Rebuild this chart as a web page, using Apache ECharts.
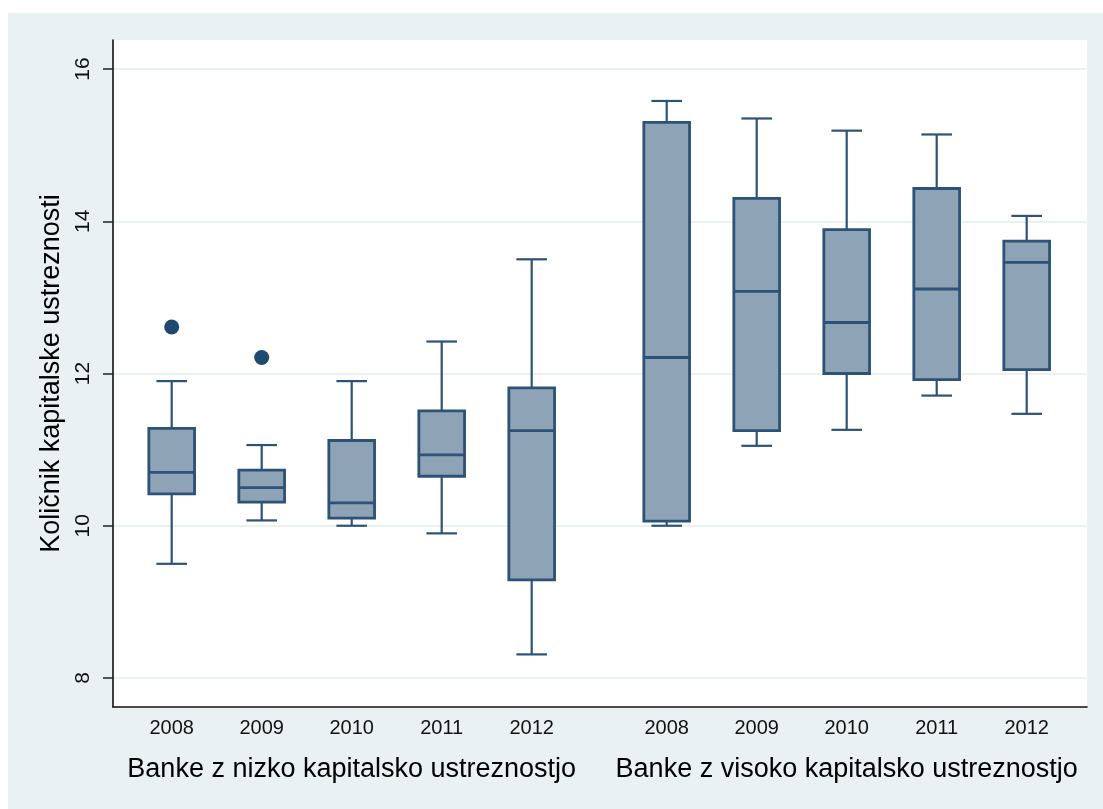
<!DOCTYPE html>
<html>
<head>
<meta charset="utf-8">
<script src="https://cdn.jsdelivr.net/npm/echarts@6/dist/echarts.min.js"></script>
<style>
body {
  margin: 0;
  background: #fff;
}
#box_chart {
  position: absolute;
  left: 8px;
  top: 13px;
  width: 1095px;
  height: 796px;
}
</style>
</head>
<body>
<div id="box_chart"></div>
<script>
const years = ["2008", "2009", "2010", "2011", "2012"];

// banke z nizko kapitalsko ustreznostjo
const lowMin = [9.5, 10.07, 10.0, 9.9, 8.31];
const lowQ1 = [10.42, 10.31, 10.1, 10.65, 9.29];
const lowMedian = [10.7, 10.5, 10.3, 10.93, 11.25];
const lowQ3 = [11.28, 10.73, 11.12, 11.51, 11.81];
const lowMax = [11.9, 11.06, 11.9, 12.42, 13.5];
const lowOutlierYear = [0, 1];
const lowOutlierValue = [12.61, 12.21];

// banke z visoko kapitalsko ustreznostjo
const highMin = [10.0, 11.05, 11.26, 11.71, 11.47];
const highQ1 = [10.06, 11.25, 12.0, 11.92, 12.05];
const highMedian = [12.21, 13.08, 12.67, 13.11, 13.46];
const highQ3 = [15.3, 14.3, 13.89, 14.43, 13.74];
const highMax = [15.58, 15.35, 15.19, 15.14, 14.07];

const yTicks = [8, 10, 12, 14, 16];

const fontFamily = "Liberation Sans, Arial, Helvetica, sans-serif";
const lineColor = "#2c5277";
const fillColor = "#8fa3b6";

function boxRows(mins, q1s, meds, q3s, maxs) {
  return years.map((y, i) => [i, mins[i], q1s[i], meds[i], q3s[i], maxs[i]]);
}

function renderBox(params, api) {
  const i = api.value(0);
  const band = api.size([1, 0])[0];
  const half = band * 0.254;
  const cap = band * 0.17;
  const pMin = api.coord([i, api.value(1)]);
  const pQ1 = api.coord([i, api.value(2)]);
  const pMed = api.coord([i, api.value(3)]);
  const pQ3 = api.coord([i, api.value(4)]);
  const pMax = api.coord([i, api.value(5)]);
  const x = pMed[0];
  const line = { stroke: lineColor, lineWidth: 2.2 };
  return {
    type: "group",
    children: [
      { type: "line", shape: { x1: x, y1: pMax[1], x2: x, y2: pQ3[1] }, style: line },
      { type: "line", shape: { x1: x, y1: pQ1[1], x2: x, y2: pMin[1] }, style: line },
      { type: "line", shape: { x1: x - cap, y1: pMax[1], x2: x + cap, y2: pMax[1] }, style: line },
      { type: "line", shape: { x1: x - cap, y1: pMin[1], x2: x + cap, y2: pMin[1] }, style: line },
      {
        type: "rect",
        shape: { x: x - half, y: pQ3[1], width: half * 2, height: pQ1[1] - pQ3[1] },
        style: { fill: fillColor, stroke: lineColor, lineWidth: 2.8 },
      },
      { type: "line", shape: { x1: x - half, y1: pMed[1], x2: x + half, y2: pMed[1] }, style: { stroke: lineColor, lineWidth: 2.8 } },
    ],
  };
}

const hiddenValueAxis = (idx, min, max) => ({
  type: "value",
  gridIndex: idx,
  min: min,
  max: max,
  axisLine: { show: false },
  axisTick: { show: false },
  axisLabel: { show: false },
  splitLine: { show: false },
});

const groupXAxis = (idx, name) => ({
  type: "category",
  gridIndex: idx,
  data: years,
  boundaryGap: true,
  axisLine: { show: false },
  axisTick: { show: false },
  axisLabel: { margin: 40, fontSize: 20, color: "#111", fontFamily: fontFamily },
  name: name,
  nameLocation: "middle",
  nameGap: 78,
  nameTextStyle: { fontSize: 27, color: "#000", fontFamily: fontFamily },
  splitLine: { show: false },
});

const myChart = echarts.init(document.getElementById("box_chart"));
const option = {
  backgroundColor: "#eaf1f3",
  animation: false,
  grid: [
    { left: 105, top: 27, width: 974, height: 667, show: true, backgroundColor: "#fff", borderWidth: 0 },
    { left: 105, top: 56, width: 974, height: 609 },
    { left: 118.7, top: 56, width: 450, height: 609 },
    { left: 613.7, top: 56, width: 450, height: 609 },
  ],
  xAxis: [
    {
      type: "value",
      gridIndex: 0,
      min: 0,
      max: 1,
      axisLine: { show: true, onZero: false, lineStyle: { color: "#111", width: 1.6 } },
      axisTick: { show: false },
      axisLabel: { show: false },
      splitLine: { show: false },
    },
    hiddenValueAxis(1, 0, 1),
    groupXAxis(2, "Banke z nizko kapitalsko ustreznostjo"),
    groupXAxis(3, "Banke z visoko kapitalsko ustreznostjo"),
  ],
  yAxis: [
    {
      type: "value",
      gridIndex: 0,
      min: 0,
      max: 1,
      axisLine: { show: true, onZero: false, lineStyle: { color: "#111", width: 1.6 } },
      axisTick: { show: false },
      axisLabel: { show: false },
      splitLine: { show: false },
    },
    {
      type: "value",
      gridIndex: 1,
      min: yTicks[0],
      max: yTicks[yTicks.length - 1],
      interval: yTicks[1] - yTicks[0],
      axisLine: { show: false },
      axisTick: { show: true, length: 10, lineStyle: { color: "#222", width: 1.5 } },
      axisLabel: { rotate: 90, margin: 19, fontSize: 21, color: "#111", fontFamily: fontFamily },
      splitLine: { show: true, lineStyle: { color: "#e9f1f3", width: 2 } },
      name: "Količnik kapitalske ustreznosti",
      nameLocation: "middle",
      nameGap: 41,
      nameTextStyle: { fontSize: 27, color: "#000", fontFamily: fontFamily },
    },
    hiddenValueAxis(2, yTicks[0], yTicks[yTicks.length - 1]),
    hiddenValueAxis(3, yTicks[0], yTicks[yTicks.length - 1]),
  ],
  series: [
    {
      type: "custom",
      xAxisIndex: 2,
      yAxisIndex: 2,
      encode: { x: 0, y: [1, 2, 3, 4, 5] },
      renderItem: renderBox,
      data: boxRows(lowMin, lowQ1, lowMedian, lowQ3, lowMax),
    },
    {
      type: "custom",
      xAxisIndex: 3,
      yAxisIndex: 3,
      encode: { x: 0, y: [1, 2, 3, 4, 5] },
      renderItem: renderBox,
      data: boxRows(highMin, highQ1, highMedian, highQ3, highMax),
    },
    {
      type: "scatter",
      xAxisIndex: 2,
      yAxisIndex: 2,
      symbolSize: 15,
      itemStyle: { color: "#1f4a6f", opacity: 1 },
      data: lowOutlierYear.map((y, i) => [y, lowOutlierValue[i]]),
    },
  ],
};
myChart.setOption(option, true);
window.addEventListener("resize", () => {
  myChart.resize();
});
</script>
</body>
</html>
